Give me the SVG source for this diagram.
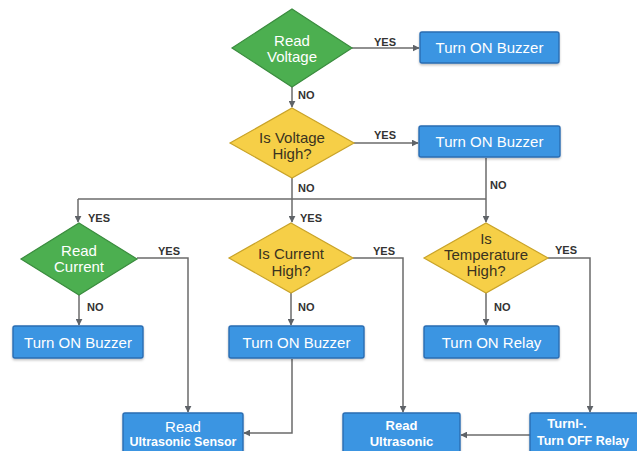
<svg xmlns="http://www.w3.org/2000/svg" width="637" height="451" viewBox="0 0 637 451">
<defs>
<marker id="arr" viewBox="0 0 10 10" refX="9" refY="5" markerWidth="7" markerHeight="7" orient="auto" markerUnits="userSpaceOnUse">
<path d="M0,0 L10,5 L0,10 z" fill="#5f6368"/>
</marker>
<filter id="sh" x="-10%" y="-10%" width="120%" height="140%">
<feDropShadow dx="0" dy="1.5" stdDeviation="1.2" flood-color="#000" flood-opacity="0.25"/>
</filter>
</defs>
<style>
.green{fill:#4caf50;stroke:#3a8c3e;stroke-width:1.2}
.yellow{fill:#f6cf47;stroke:#c9a328;stroke-width:1.2}
.box{fill:#3b95e2;stroke:#2a6db3;stroke-width:1.4;filter:url(#sh)}
.wt{fill:#ffffff;font-family:"Liberation Sans",Arial,sans-serif;font-size:15px;text-anchor:middle;dominant-baseline:central}
.dt{fill:#3a3320;font-family:"Liberation Sans",Arial,sans-serif;font-size:15px;text-anchor:middle;dominant-baseline:central}
.wb{fill:#ffffff;font-family:"Liberation Sans",Arial,sans-serif;font-weight:bold;font-size:12.5px;text-anchor:middle;dominant-baseline:central}
.wb13{fill:#ffffff;font-family:"Liberation Sans",Arial,sans-serif;font-weight:bold;font-size:13px;text-anchor:middle;dominant-baseline:central}
.lbl{fill:#333;font-family:"Liberation Sans",Arial,sans-serif;font-weight:bold;font-size:11px;dominant-baseline:central}
.ln{fill:none;stroke:#6b6b6b;stroke-width:1.5}
.la{fill:none;stroke:#6b6b6b;stroke-width:1.5;marker-end:url(#arr)}
</style>
<rect width="637" height="451" fill="#ffffff"/>

<g id="connectors">
<line class="la" x1="352" y1="48" x2="419" y2="48"/>
<line class="la" x1="292" y1="87" x2="292" y2="107"/>
<line class="la" x1="354" y1="143" x2="418" y2="143"/>
<line class="ln" x1="292" y1="178" x2="292" y2="199"/>
<line class="la" x1="292" y1="199" x2="292" y2="222"/>
<line class="ln" x1="78" y1="199" x2="486" y2="199"/>
<line class="la" x1="78" y1="199" x2="78" y2="222"/>
<line class="la" x1="486" y1="158" x2="486" y2="222"/>
<line class="la" x1="79" y1="295" x2="79" y2="325"/>
<line class="la" x1="291" y1="293" x2="291" y2="325"/>
<line class="la" x1="486" y1="293" x2="486" y2="325"/>
<polyline class="la" points="137,258 188,258 188,412"/>
<polyline class="la" points="353,258 403,258 403,412"/>
<polyline class="la" points="548,258 590,258 590,412"/>
<polyline class="la" points="292,359 292,433 244,433"/>
<line class="la" x1="530" y1="435" x2="461" y2="435"/>
</g>

<g id="labels">
<text class="lbl" x="374" y="42">YES</text>
<text class="lbl" x="298" y="95">NO</text>
<text class="lbl" x="374" y="135">YES</text>
<text class="lbl" x="298" y="188">NO</text>
<text class="lbl" x="490" y="185">NO</text>
<text class="lbl" x="300" y="218">YES</text>
<text class="lbl" x="88" y="218">YES</text>
<text class="lbl" x="158" y="251">YES</text>
<text class="lbl" x="87" y="307">NO</text>
<text class="lbl" x="373" y="251">YES</text>
<text class="lbl" x="298" y="307">NO</text>
<text class="lbl" x="555" y="250">YES</text>
<text class="lbl" x="494" y="307">NO</text>
</g>

<g id="read-voltage">
<polygon class="green" points="292,9 352,48 292,87 232,48"/>
<text class="wt" x="292" y="40">Read</text>
<text class="wt" x="292" y="56">Voltage</text>
</g>
<g id="buzzer-1">
<rect class="box" x="420" y="32" width="139" height="31" rx="2"/>
<text class="wt" x="489.5" y="47.5">Turn ON Buzzer</text>
</g>
<g id="voltage-high">
<polygon class="yellow" points="292,108 354,143 292,178 230,143"/>
<text class="dt" x="292" y="137">Is Voltage</text>
<text class="dt" x="292" y="153">High?</text>
</g>
<g id="buzzer-2">
<rect class="box" x="419" y="126" width="141" height="31" rx="2"/>
<text class="wt" x="489.5" y="141.5">Turn ON Buzzer</text>
</g>
<g id="read-current">
<polygon class="green" points="79,223 137,259 79,295 21,259"/>
<text class="wt" x="79" y="250">Read</text>
<text class="wt" x="79" y="266">Current</text>
</g>
<g id="current-high">
<polygon class="yellow" points="291,223 353,258 291,293 229,258"/>
<text class="dt" x="291" y="253">Is Current</text>
<text class="dt" x="291" y="270">High?</text>
</g>
<g id="temp-high">
<polygon class="yellow" points="486,223 548,258 486,293 424,258"/>
<text class="dt" x="486" y="238">Is</text>
<text class="dt" x="486" y="254">Temperature</text>
<text class="dt" x="486" y="270">High?</text>
</g>
<g id="buzzer-3">
<rect class="box" x="13" y="326" width="130" height="32" rx="2"/>
<text class="wt" x="78" y="342">Turn ON Buzzer</text>
</g>
<g id="buzzer-4">
<rect class="box" x="229" y="326" width="135" height="32" rx="2"/>
<text class="wt" x="296.5" y="342">Turn ON Buzzer</text>
</g>
<g id="relay-on">
<rect class="box" x="424" y="326" width="135" height="32" rx="2"/>
<text class="wt" x="491.5" y="342">Turn ON Relay</text>
</g>
<g id="ultrasonic-sensor">
<rect class="box" x="123" y="413" width="120" height="45" rx="2"/>
<text class="wt" x="183" y="426">Read</text>
<text class="wb" x="183" y="442">Ultrasonic Sensor</text>
</g>
<g id="ultrasonic">
<rect class="box" x="343" y="413" width="117" height="45" rx="2"/>
<text class="wb13" x="401.5" y="425">Read</text>
<text class="wb13" x="401.5" y="441">Ultrasonic</text>
</g>
<g id="relay-off">
<rect class="box" x="530" y="413" width="115" height="45" rx="2"/>
<text class="wb13" x="567" y="423">Turnl-.</text>
<text class="wb" x="583" y="441">Turn OFF Relay</text>
</g>
</svg>
